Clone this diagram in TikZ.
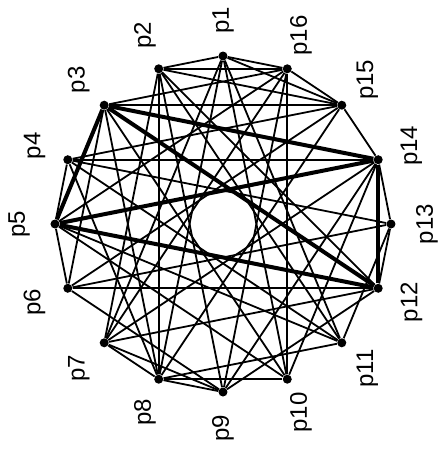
\documentclass[tikz,border=0pt]{standalone}
\usepackage{fontspec}
\setmainfont{Liberation Sans}
\begin{document}
\begin{tikzpicture}[x=0.5pt,y=0.5pt,every node/.style={font=\fontsize{12}{14}\selectfont}]
  \useasboundingbox (-223,-227) rectangle (216,224);
  % vertices and labels
  \foreach \i in {1,...,16}{
    \node[circle,fill,inner sep=0pt,minimum size=4.5pt] (p\i) at ({90+22.5*(\i-1)}:168) {};
    \node[rotate=90] (l\i) at ({90+22.5*(\i-1)}:204) {p\i};
  }

  % thin edges
  \foreach \a/\b in {1/2,1/16,1/15,1/7,1/8,1/10,1/11,
                     2/16,2/15,2/8,2/9,2/11,2/12,2/7,
                     3/16,3/6,3/10,3/8,3/15,
                     4/5,4/14,4/15,4/11,4/13,4/8,
                     5/6,5/10,5/16,5/11,
                     6/12,6/13,6/15,6/9,
                     7/8,7/14,7/16,7/12,7/9,
                     8/9,8/10,8/11,8/15,
                     9/16,9/14,9/12,
                     10/16,10/14,
                     11/13,12/13,13/14,14/15,15/16}{
    \draw[line width=0.9pt] (p\a) -- (p\b);
  }

  % bold clique
  \foreach \a/\b in {3/5,3/12,3/14,5/12,5/14,12/14}{
    \draw[line width=2pt] (p\a) -- (p\b);
  }
\end{tikzpicture}
\end{document}
